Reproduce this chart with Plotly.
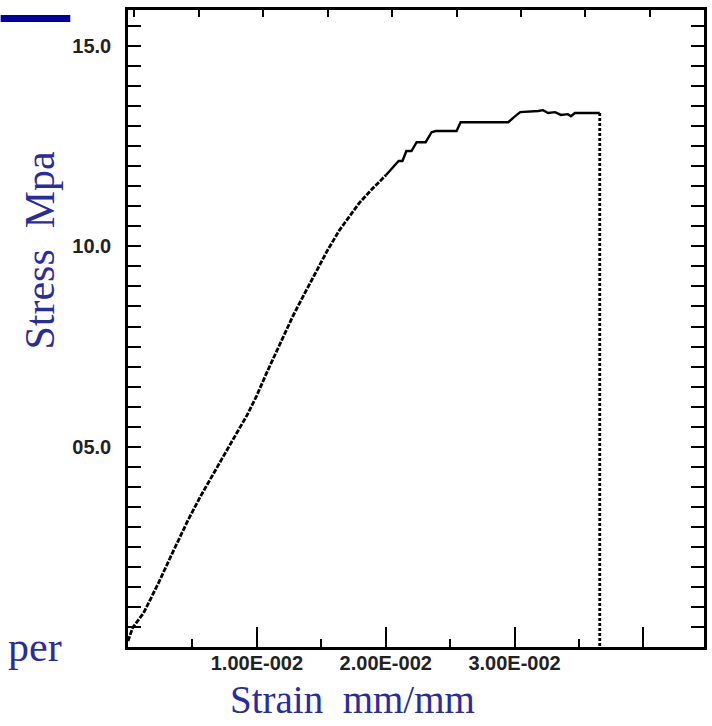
import plotly.graph_objects as go

# Stress-strain data (strain in mm/mm, stress in MPa)
strain = [0.0, 0.00036, 0.00121, 0.00237, 0.00345, 0.00468, 0.00561, 0.00692,
          0.00815, 0.00923, 0.0100, 0.01077, 0.0115, 0.0120, 0.01278, 0.0137,
          0.01463, 0.01548, 0.0164, 0.01717, 0.01794, 0.01894, 0.02003, 0.02079,
          0.0210, 0.0213, 0.0216, 0.0220, 0.0224, 0.0231, 0.02356, 0.0239,
          0.0255, 0.02581, 0.02951, 0.03005, 0.03044, 0.03183, 0.03221, 0.0326,
          0.03314, 0.0336, 0.03414, 0.03437, 0.03468, 0.03661, 0.03661]
stress = [0.15, 0.48, 0.85, 1.60, 2.35, 3.18, 3.75, 4.50,
          5.18, 5.78, 6.28, 6.85, 7.35, 7.72, 8.25, 8.82,
          9.38, 9.90, 10.40, 10.75, 11.08, 11.43, 11.78, 12.05,
          12.13, 12.13, 12.38, 12.38, 12.60, 12.60, 12.85, 12.88,
          12.88, 13.10, 13.10, 13.25, 13.35, 13.38, 13.40, 13.33,
          13.35, 13.28, 13.30, 13.25, 13.33, 13.33, 0.0]

x_major_vals = [0.01, 0.02, 0.03, 0.04]
x_major_text = ["1.00E-002", "2.00E-002", "3.00E-002", ""]
x_minor_vals = [0.005, 0.015, 0.025, 0.035]
y_major_vals = [5, 10, 15]
y_major_text = ["05.0", "10.0", "15.0"]

BLUE = "#2b2c9b"
split = 22  # end of rising (dashed-looking) part
brk = len(strain) - 2  # fracture point

fig = go.Figure()
fig.add_trace(go.Scatter(x=strain[:split + 1], y=stress[:split + 1], mode="lines",
                         line=dict(color="black", width=2.8, dash="5px,1.5px"),
                         hoverinfo="skip"))
fig.add_trace(go.Scatter(x=strain[split:brk + 1], y=stress[split:brk + 1], mode="lines",
                         line=dict(color="black", width=2.4),
                         hoverinfo="skip"))
fig.add_trace(go.Scatter(x=strain[brk:], y=stress[brk:], mode="lines",
                         line=dict(color="black", width=2.8, dash="3px,2px"),
                         hoverinfo="skip"))
fig.add_trace(go.Scatter(x=[], y=[], xaxis="x2", hoverinfo="skip"))

tickfont = dict(family="Liberation Sans, Arial, sans-serif", size=20,
                color="#222222", weight="bold")

fig.update_layout(
    width=712, height=726,
    margin=dict(l=128, r=5, t=10, b=79),
    paper_bgcolor="white", plot_bgcolor="white",
    showlegend=False,
    xaxis=dict(range=[0, 0.0447], showline=True, linecolor="black", linewidth=2.5,
               mirror=True, ticks="inside", ticklen=20, tickwidth=2, tickcolor="black",
               tickmode="array", tickvals=x_major_vals, ticktext=x_major_text,
               tickfont=tickfont, ticklabelstandoff=-4,
               minor=dict(ticks="inside", ticklen=8, tickwidth=2, tickcolor="black",
                          tickvals=x_minor_vals),
               showgrid=False, zeroline=False),
    xaxis2=dict(range=[0, 0.0447], overlaying="x", side="top", ticks="inside",
                ticklen=7, tickwidth=2, tickcolor="black", tick0=0.0055, dtick=0.005,
                showticklabels=False, showline=False, showgrid=False, zeroline=False),
    yaxis=dict(range=[0, 15.9], showline=True, linecolor="black", linewidth=2.5,
               mirror="allticks", ticks="inside", ticklen=13, tickwidth=2,
               tickcolor="black", tickmode="array", tickvals=y_major_vals,
               ticktext=y_major_text, tickfont=tickfont, ticklabelstandoff=10,
               minor=dict(ticks="inside", ticklen=6, tickwidth=2, tickcolor="black",
                          tick0=0, dtick=0.5),
               showgrid=False, zeroline=False),
)

serif = "Liberation Serif, Times New Roman, serif"
fig.add_annotation(text="Strain\u00a0\u00a0mm/mm", xref="paper", yref="paper",
                   x=0.390, y=-0.0832, xanchor="center", yanchor="middle",
                   showarrow=False, font=dict(family=serif, size=39, color=BLUE))
fig.add_annotation(text="Stress\u00a0\u00a0Mpa", xref="paper", yref="paper",
                   x=-0.152, y=0.623, xanchor="center", yanchor="middle",
                   textangle=-90, showarrow=False,
                   font=dict(family=serif, size=42, color=BLUE))
fig.add_annotation(text="per", xref="paper", yref="paper",
                   x=-0.2124, y=0.0, xanchor="left", yanchor="middle",
                   showarrow=False, font=dict(family=serif, size=42, color=BLUE))
fig.add_shape(type="rect", xref="paper", yref="paper",
              x0=-0.2211, x1=-0.1002, y0=0.981, y1=0.992,
              fillcolor="#0000a0", line=dict(width=0))

fig.write_html("out.html", config={"displayModeBar": False},
               post_script="document.body.style.margin='0';"
                           "document.body.style.overflow='hidden';")
